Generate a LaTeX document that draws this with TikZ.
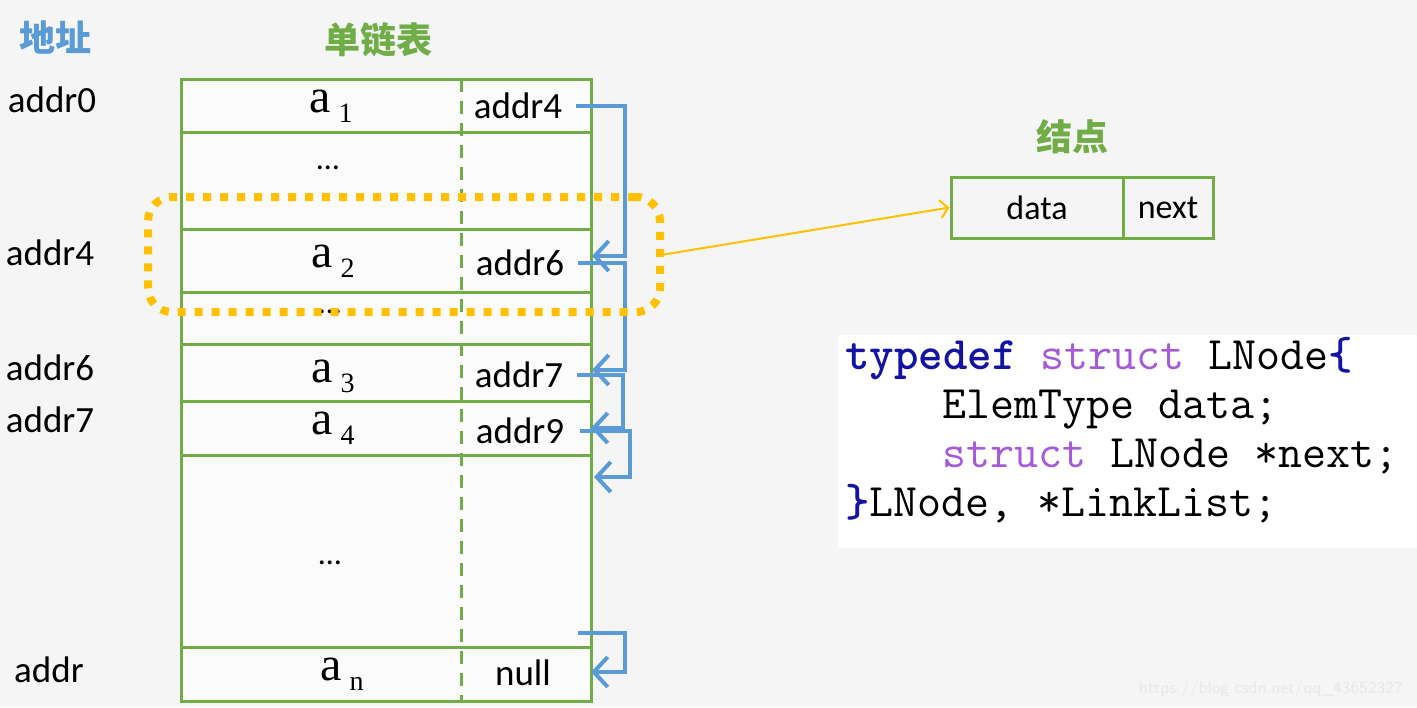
\documentclass[tikz,border=0pt]{standalone}
\usepackage{fontspec}
\setmainfont{Carlito}
\newfontfamily\cjk{Noto Sans CJK SC}
\newfontfamily\elemfont{Liberation Serif}
\usetikzlibrary{arrows.meta}
\definecolor{tgreen}{RGB}{112,173,71}
\definecolor{tblue}{RGB}{91,155,213}
\definecolor{torange}{RGB}{255,192,0}
\definecolor{kwblue}{RGB}{20,20,160}
\definecolor{kwpurple}{RGB}{165,90,215}
\definecolor{bggray}{RGB}{245,245,245}
\newcommand{\elem}[2]{{\elemfont a\,\raisebox{-0.45ex}{\fontsize{14}{15}\selectfont #1}}}

\begin{document}
\begin{tikzpicture}[x=0.5pt,y=-0.5pt,
  title/.style={font=\cjk\bfseries\fontsize{18}{20}\selectfont},
  addr/.style={font=\fontsize{18.5}{20}\selectfont,inner sep=0pt},
  elem/.style={font=\fontsize{24}{26}\selectfont,inner sep=0pt},
  dots/.style={font=\fontsize{16}{18}\selectfont,inner sep=0pt},
  link/.style={draw=tblue,line width=2pt,-{Straight Barb[length=7pt,width=15pt,line width=2pt]}},
  hl/.style={draw=torange,line width=4pt,dash pattern=on 4pt off 4.5pt,rounded corners=12pt,minimum width=256pt,minimum height=57.5pt,inner sep=0pt},
  ptr/.style={draw=torange,line width=1pt,-{Straight Barb[length=4pt,width=9pt]}},
  part/.style={draw=tgreen,line width=1.5pt,minimum height=30.5pt,inner sep=0pt,font=\fontsize{17}{20}\selectfont},
  code/.style={font=\ttfamily\fontsize{23.3}{26}\selectfont,anchor=base west,inner sep=0pt}]
\useasboundingbox[fill=bggray] (0,0) rectangle (1417,707);
\fill[white] (838,335) rectangle (1417,548);

\node[title,text=tblue](haddr) at (55,37){地址};
\node[title,text=tgreen](hlist) at (378,40){单链表};
\node[title,text=tgreen](hnode) at (1072,137){结点};

\fill[white!60!bggray] (181,79) rectangle (591,701);
\draw[tgreen,line width=1.5pt] (181,79) rectangle (591,701);
\foreach \y in {132,229,292,344,401,455,647}
  \draw[tgreen,line width=1.5pt] (181,\y) -- (591,\y);
\draw[tgreen,line width=1.5pt,dash pattern=on 6.5pt off 4.5pt] (461,79) -- (461,701);

\node[addr](l0) at (52,100){addr0};
\node[addr](l4) at (50,253){addr4};
\node[addr](l6) at (50,368){addr6};
\node[addr](l7) at (50,420){addr7};
\node[addr](ln) at (49,670){addr};

\node[elem](a1) at (331,106){\elem{1}{}};
\node[dots](d1) at (328,168){\dots};
\node[elem](a2) at (333,261){\elem{2}{}};
\node[dots](d2) at (330,312){\dots};
\node[elem](a3) at (333,376){\elem{3}{}};
\node[elem](a4) at (333,428){\elem{4}{}};
\node[dots](d3) at (330,563){\dots};
\node[elem](an) at (342,674){\elem{n}{}};

\node[addr](p1) at (518,106){addr4};
\node[addr](p2) at (520,263){addr6};
\node[addr](p3) at (519,375){addr7};
\node[addr](p4) at (520,431){addr9};
\node[addr](pn) at (523,673){null};

\coordinate (in2) at (592,256);
\coordinate (in3) at (592,370);
\coordinate (in4) at (591,428);
\coordinate (in5) at (594,477);
\coordinate (inn) at (591,672);
\coordinate (out5) at (578,633);
\draw[link] ([xshift=6.75pt]p1.east) -- ++(49,0) |- (in2);
\draw[link] ([xshift=6.75pt]p2.east) -- ++(47,0) |- (in3);
\draw[link] ([xshift=6.75pt]p3.east) -- ++(46,0) |- (in4);
\draw[link] ([xshift=7.75pt]p4.east) -- ++(50,0) |- (in5);
\draw[link] (out5) -- ++(47,0) |- (inn);

\node[hl](sel) at (404,254.5){};
\node[part,minimum width=86pt](data) at (1037,207.5){data};
\node[part,minimum width=45pt](next) at (1168,207.5){next};
\draw[ptr] (sel.east) -- (data.west);

\node[code](c1) at (845,369){\textcolor{kwblue}{\bfseries typedef} \textcolor{kwpurple}{struct} LNode\textcolor{kwblue}{\bfseries\{}};
\node[code](c2) at (942,418){ElemType data;};
\node[code](c3) at (942,467){\textcolor{kwpurple}{struct} LNode *next;};
\node[code](c4) at (845,516){\textcolor{kwblue}{\bfseries\}}LNode, *LinkList;};

\node[font=\fontfamily{}\sffamily\fontsize{8.5}{10}\selectfont,text=gray!18,anchor=east](wm) at (1410,689){https://blog.csdn.net/qq\_43652327};
\end{tikzpicture}
\end{document}
